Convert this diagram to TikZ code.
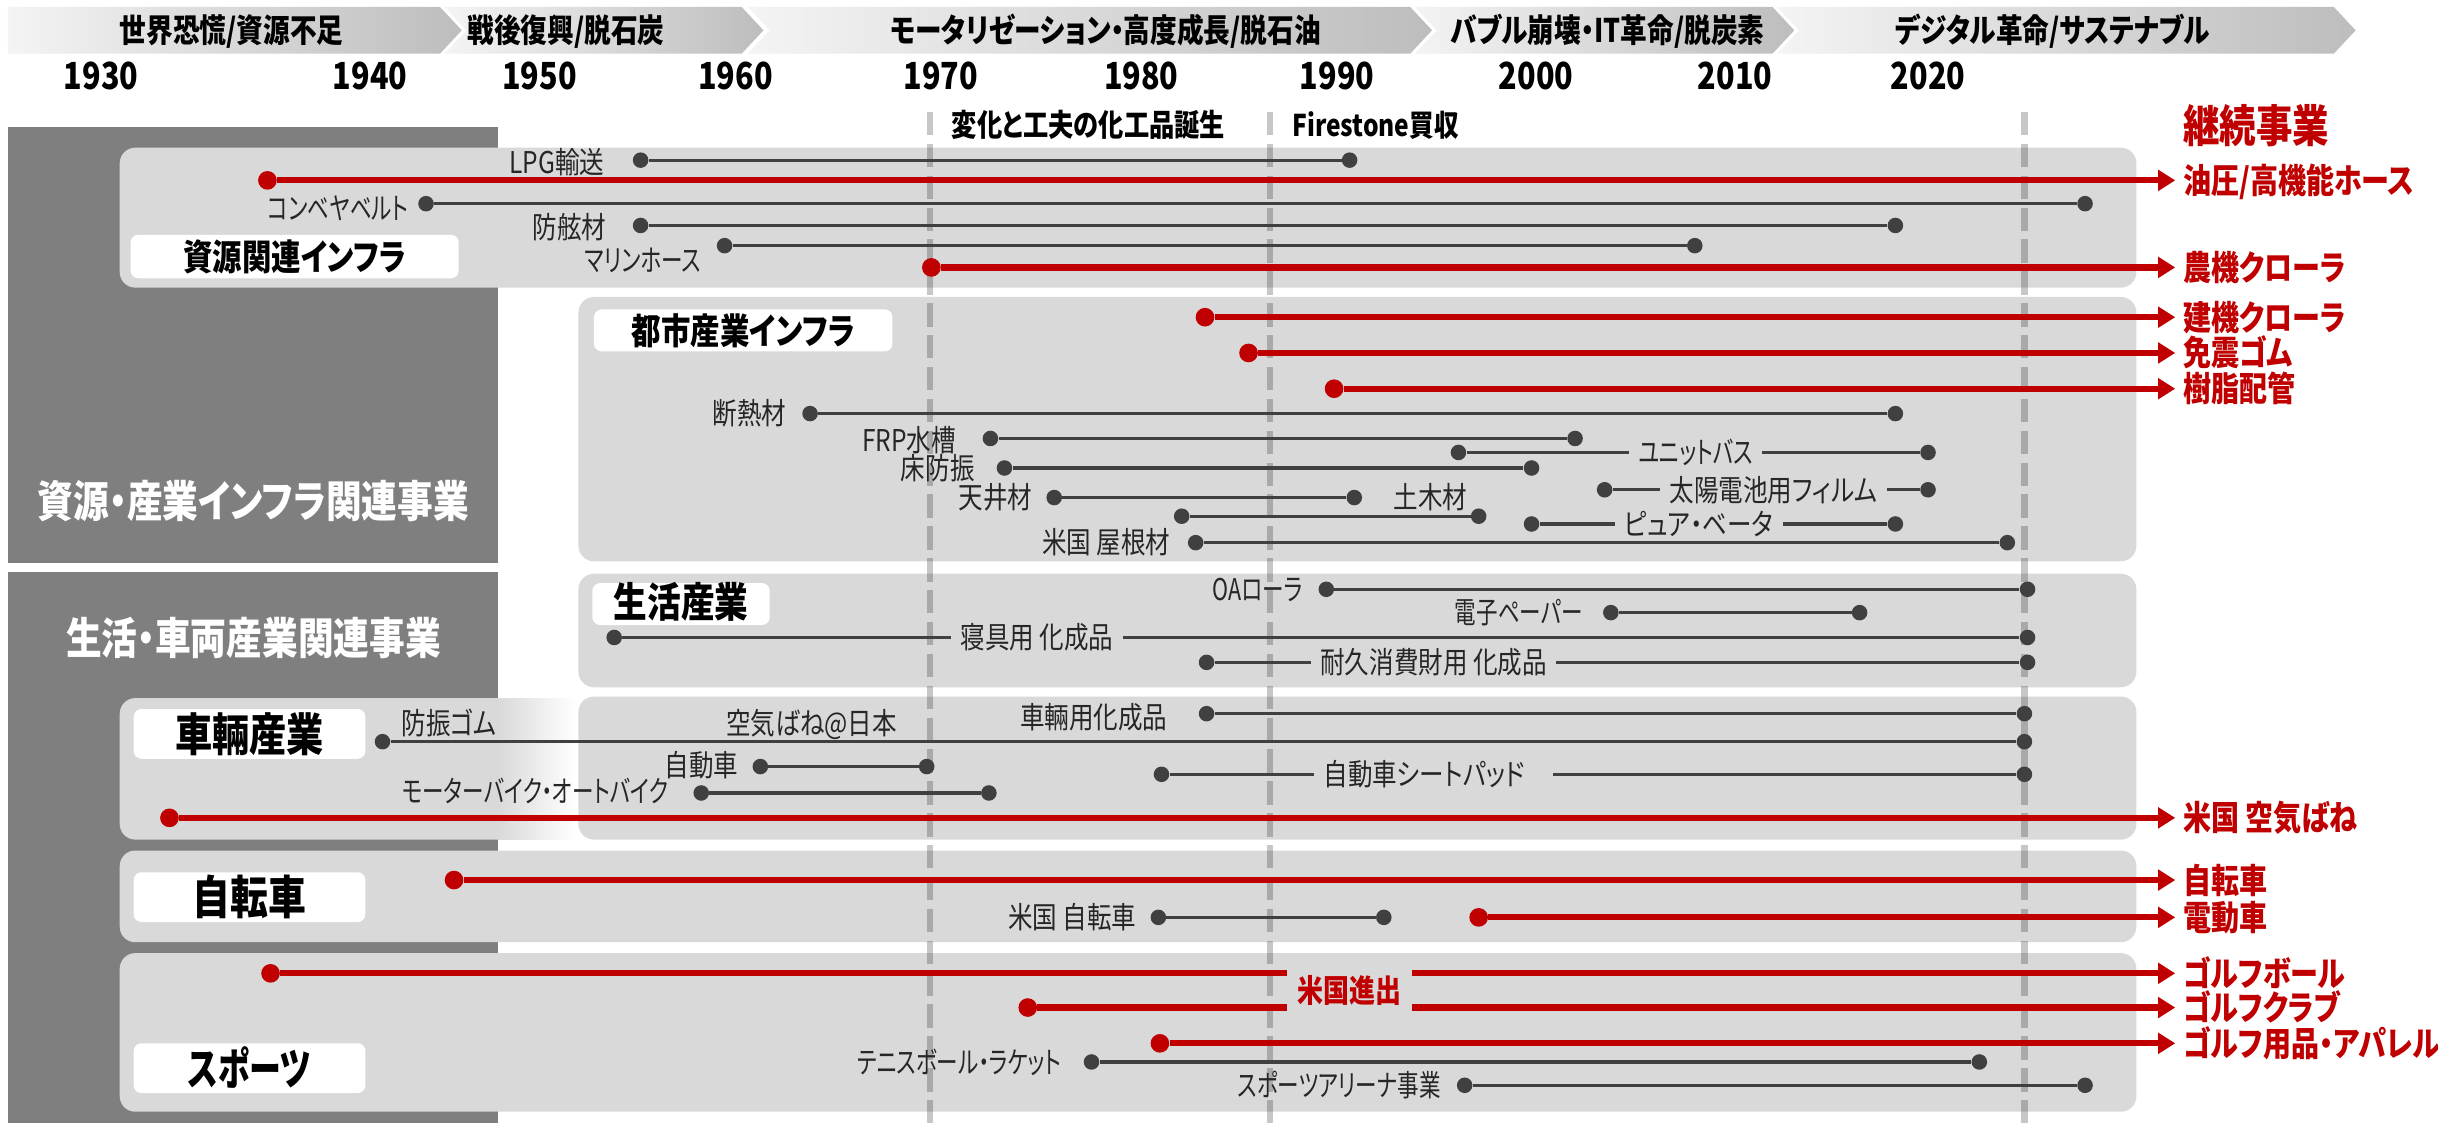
\documentclass[tikz,border=0pt]{standalone}
\usepackage{fontspec}
\newfontfamily\jp[FakeStretch=0.82,RawFeature={+palt}]{Noto Sans CJK JP}
\newfontfamily\jpk[FakeStretch=0.72,RawFeature={+palt}]{Noto Sans CJK JP}
\usetikzlibrary{arrows.meta}
\definecolor{cred}{HTML}{C00000}
\definecolor{dgray}{HTML}{404040}
\definecolor{boxgray}{HTML}{D9D9D9}
\definecolor{darkbox}{HTML}{7F7F7F}
\definecolor{labc}{HTML}{262626}
\definecolor{chevL}{HTML}{F4F4F4}
\definecolor{chevR}{HTML}{BDBDBD}
\newcommand\jfs[1]{\fontsize{#1}{#1}\selectfont}
\begin{document}
\begin{tikzpicture}[x=1pt,y=-1pt,
  lab/.style={font=\jp\jfs{19.25}, text=labc, inner sep=0pt, text height=15.4pt, text depth=0.8pt},
  klab/.style={lab, font=\jpk\jfs{19.25}},
  ilab/.style={lab, inner xsep=6pt},
  kilab/.style={klab, inner xsep=6pt},
  rlab/.style={font=\jp\bfseries\jfs{22}, text=cred, inner xsep=5pt, inner ysep=0pt, anchor=west, text height=17.6pt, text depth=0.9pt},
  htext/.style={font=\jp\bfseries\jfs{20.9}, text=black, inner sep=0pt, text height=16.7pt, text depth=0.8pt},
  year/.style={font=\jp\bfseries\jfs{24}, text=black, inner sep=0pt},
  tag/.style={fill=white, rounded corners=5pt, font=\jp\bfseries\jfs{23.1}, text=black, inner sep=0pt, text height=18.5pt, text depth=0.9pt},
  bigtag/.style={tag, font=\jp\bfseries\jfs{29.2}, text height=23.3pt, text depth=1.1pt},
  darktext/.style={font=\jp\bfseries\jfs{28}, text=white, inner sep=0pt},
  gdot/.style={circle, fill=dgray, minimum size=10pt, inner sep=0pt},
  rdot/.style={circle, fill=cred, minimum size=12pt, inner sep=0pt},
  gline/.style={draw=dgray, line width=2pt},
  rline/.style={draw=cred, line width=4pt, -{Triangle[length=11pt,width=13pt]}},
  rseg/.style={draw=cred, line width=4pt},
  vdash/.style={draw=black, opacity=0.22, line width=4pt, dash pattern=on 15pt off 5.5pt},
  secbox/.style={fill=boxgray, rounded corners=10pt}
]
\useasboundingbox (0,0) rectangle (1568,725);
\fill[white] (0,0) rectangle (1568,725);

% ---------- header chevrons ----------
\shade[left color=chevL, right color=chevR] (5,4.5) -- (283,4.5) -- (297,19.5) -- (283,34.5) -- (5,34.5) -- cycle;
\shade[left color=chevL, right color=chevR] (286,4.5) -- (477,4.5) -- (491,19.5) -- (477,34.5) -- (286,34.5) -- (300,19.5) -- cycle;
\shade[left color=chevL, right color=chevR] (481,4.5) -- (907,4.5) -- (921,19.5) -- (907,34.5) -- (481,34.5) -- (495,19.5) -- cycle;
\shade[left color=chevL, right color=chevR] (910,4.5) -- (1140,4.5) -- (1154,19.5) -- (1140,34.5) -- (910,34.5) -- (924,19.5) -- cycle;
\shade[left color=chevL, right color=chevR] (1143,4.5) -- (1501,4.5) -- (1515,19.5) -- (1501,34.5) -- (1143,34.5) -- (1157,19.5) -- cycle;

\node[htext] (h1) at (149,19.5) {世界恐慌/資源不足};
\node[htext] (h2) at (364,19.5) {戦後復興/脱石炭};
\node[htext] (h3) at (711,19.5) {モータリゼーション・高度成長/脱石油};
\node[htext] (h4) at (1034,19.5) {バブル崩壊・IT革命/脱炭素};
\node[htext] (h5) at (1320,19.5) {デジタル革命/サステナブル};

\node[year] (y1930) at (65,49) {1930};
\node[year] (y1940) at (238,49) {1940};
\node[year] (y1950) at (347,49) {1950};
\node[year] (y1960) at (473,49) {1960};
\node[year] (y1970) at (605,49) {1970};
\node[year] (y1980) at (734,49) {1980};
\node[year] (y1990) at (860,49) {1990};
\node[year] (y2000) at (988,49) {2000};
\node[year] (y2010) at (1116,49) {2010};
\node[year] (y2020) at (1240,49) {2020};

% ---------- left dark boxes ----------
\fill[darkbox] (5,82) rectangle (320,362);
\fill[darkbox] (5,368) rectangle (320,722);
\node[darktext] (dk1) at (163,322) {資源・産業インフラ関連事業};
\node[darktext] (dk2) at (163,410) {生活・車両産業関連事業};

% ---------- section boxes ----------
\fill[secbox] (77,95) rectangle (1374,185);
\fill[secbox] (372,191) rectangle (1374,361);
\fill[secbox] (372,369) rectangle (1374,442);
\fill[secbox] (77,449) rectangle (345,540);
\shade[left color=boxgray, right color=white] (320,449) rectangle (370,540);
\fill[secbox] (372,448) rectangle (1374,540);
\fill[secbox] (77,547) rectangle (1374,606);
\fill[secbox] (77,613) rectangle (1374,715);

\node[tag, minimum width=211pt, minimum height=28pt] (tA) at (189.5,165) {資源関連インフラ};
\node[tag, minimum width=192pt, minimum height=27pt] (tB) at (478,212.5) {都市産業インフラ};
\node[tag, minimum width=114pt, minimum height=27pt, font=\jp\bfseries\jfs{26.4}] (tC) at (438,388.5) {生活産業};
\node[bigtag, minimum width=149pt, minimum height=32pt] (tD) at (160.5,472) {車輛産業};
\node[bigtag, minimum width=149pt, minimum height=32pt, font=\jp\bfseries\jfs{29.7}] (tE) at (160.5,577) {自転車};
\node[bigtag, minimum width=149pt, minimum height=32pt, font=\jpk\bfseries\jfs{28.6}] (tF) at (160.5,687) {スポーツ};

% ---------- dashed guide lines ----------
\draw[vdash] (598,72) -- (598,725);
\draw[vdash] (817,72) -- (817,725);
\draw[vdash] (1302,72) -- (1302,725);

\node[htext, anchor=west, font=\jp\bfseries\jfs{19.8}] (ev1) at (612,80) {変化と工夫の化工品誕生};
\node[htext, anchor=west, font=\jp\bfseries\jfs{19.25}] (ev2) at (831,80) {Firestone買収};
\node[font=\jp\bfseries\jfs{28.6}, text=cred, inner sep=0pt, anchor=west] (cont) at (1404,81) {継続事業};

% ---------- section A ----------
\node[gdot] (lpg1) at (412,103) {}; \node[gdot] (lpg2) at (868,103) {};
\draw[gline] (lpg1) -- (lpg2);
\node[lab, anchor=east] (lpgL) at (389,104) {LPG輸送};

\node[rdot] (oil1) at (172,116) {};
\node[rlab] (oilL) at (1399,116) {油圧/高機能ホース};
\draw[rline] (oil1) -- (oilL.west);

\node[gdot] (cv1) at (274,131) {}; \node[gdot] (cv2) at (1341,131) {};
\draw[gline] (cv1) -- (cv2);
\node[klab, anchor=east] (cvL) at (263,134) {コンベヤベルト};

\node[gdot] (fg1) at (412,145) {}; \node[gdot] (fg2) at (1219,145) {};
\draw[gline] (fg1) -- (fg2);
\node[lab, anchor=east] (fgL) at (390,146) {防舷材};

\node[gdot] (mh1) at (466,158) {}; \node[gdot] (mh2) at (1090,158) {};
\draw[gline] (mh1) -- (mh2);
\node[klab, anchor=east] (mhL) at (451,167) {マリンホース};

\node[rdot] (ag1) at (599,172) {};
\node[rlab] (agL) at (1399,172) {農機クローラ};
\draw[rline] (ag1) -- (agL.west);

% ---------- section B ----------
\node[rdot] (cc1) at (775,204) {};
\node[rlab] (ccL) at (1399,204) {建機クローラ};
\draw[rline] (cc1) -- (ccL.west);

\node[rdot] (si1) at (803,227) {};
\node[rlab] (siL) at (1399,227) {免震ゴム};
\draw[rline] (si1) -- (siL.west);

\node[rdot] (rp1) at (858,250) {};
\node[rlab] (rpL) at (1399,250) {樹脂配管};
\draw[rline] (rp1) -- (rpL.west);

\node[gdot] (dn1) at (521,266) {}; \node[gdot] (dn2) at (1219,266) {};
\draw[gline] (dn1) -- (dn2);
\node[lab, anchor=east] (dnL) at (506,266) {断熱材};

\node[gdot] (frp1) at (637,282) {}; \node[gdot] (frp2) at (1013,282) {};
\draw[gline] (frp1) -- (frp2);
\node[lab, anchor=east] (frpL) at (615,283) {FRP水槽};

\node[gdot] (ub1) at (938,291) {}; \node[gdot] (ub2) at (1240,291) {};
\node[kilab] (ubL) at (1090.5,291) {ユニットバス};
\draw[gline] (ub1) -- (ubL.west);
\draw[gline] (ubL.east) -- (ub2);

\node[gdot] (fv1) at (646,301) {}; \node[gdot] (fv2) at (985,301) {};
\draw[gline] (fv1) -- (fv2);
\node[lab, anchor=east] (fvL) at (627,301) {床防振};

\node[gdot] (sf1) at (1032,315) {}; \node[gdot] (sf2) at (1240,315) {};
\node[ilab] (sfL) at (1140.5,315) {太陽電池用フィルム};
\draw[gline] (sf1) -- (sfL.west);
\draw[gline] (sfL.east) -- (sf2);

\node[gdot] (cl1) at (678,320) {}; \node[gdot] (cl2) at (871,320) {};
\draw[gline] (cl1) -- (cl2);
\node[lab, anchor=east] (clL) at (664,320) {天井材};

\node[lab] (cwL) at (920,320) {土木材};
\node[gdot] (cw1) at (760,332) {}; \node[gdot] (cw2) at (951,332) {};
\draw[gline] (cw1) -- (cw2);

\node[gdot] (pb1) at (985,337) {}; \node[gdot] (pb2) at (1219,337) {};
\node[ilab] (pbL) at (1092.5,337) {ピュア・ベータ};
\draw[gline] (pb1) -- (pbL.west);
\draw[gline] (pbL.east) -- (pb2);

\node[gdot] (rf1) at (769,349) {}; \node[gdot] (rf2) at (1291,349) {};
\draw[gline] (rf1) -- (rf2);
\node[lab, anchor=east] (rfL) at (753,349) {米国 屋根材};

% ---------- section C ----------
\node[gdot] (oa1) at (853,379) {}; \node[gdot] (oa2) at (1304,379) {};
\draw[gline] (oa1) -- (oa2);
\node[klab, anchor=east] (oaL) at (838,379) {OAローラ};

\node[gdot] (ep1) at (1036,394) {}; \node[gdot] (ep2) at (1196,394) {};
\draw[gline] (ep1) -- (ep2);
\node[klab, anchor=east] (epL) at (1018,394) {電子ペーパー};

\node[gdot] (bd1) at (395,410) {}; \node[gdot] (bd2) at (1304,410) {};
\node[ilab] (bdL) at (667,410) {寝具用 化成品};
\draw[gline] (bd1) -- (bdL.west);
\draw[gline] (bdL.east) -- (bd2);

\node[gdot] (dc1) at (776,426) {}; \node[gdot] (dc2) at (1304,426) {};
\node[ilab] (dcL) at (922,426) {耐久消費財用 化成品};
\draw[gline] (dc1) -- (dcL.west);
\draw[gline] (dcL.east) -- (dc2);

% ---------- section D ----------
\node[gdot] (vc1) at (776,459) {}; \node[gdot] (vc2) at (1302,459) {};
\draw[gline] (vc1) -- (vc2);
\node[lab, anchor=east] (vcL) at (751,461) {車輛用化成品};

\node[lab, anchor=west] (arL) at (258,465) {防振ゴム};
\node[lab] (asL) at (522,465) {空気ばね@日本};
\node[gdot] (ar1) at (246,477) {}; \node[gdot] (ar2) at (1302,477) {};
\draw[gline] (ar1) -- (ar2);

\node[gdot] (au1) at (489,493) {}; \node[gdot] (au2) at (596,493) {};
\draw[gline] (au1) -- (au2);
\node[lab, anchor=east] (auL) at (475,492) {自動車};

\node[gdot] (sp1) at (747,498) {}; \node[gdot] (sp2) at (1302,498) {};
\node[ilab, anchor=west] (spL) at (845,498) {自動車シートパッド};
\coordinate (spR) at (999,498);
\draw[gline] (sp1) -- (spL.west);
\draw[gline] (spR) -- (sp2);

\node[gdot] (mb1) at (451,510) {}; \node[gdot] (mb2) at (636,510) {};
\draw[gline] (mb1) -- (mb2);
\node[klab, anchor=east] (mbL) at (430,509) {モーターバイク・オートバイク};

\node[rdot] (usa1) at (109,526) {};
\node[rlab] (usaL) at (1399,526) {米国 空気ばね};
\draw[rline] (usa1) -- (usaL.west);

% ---------- section E ----------
\node[rdot] (bc1) at (292,566) {};
\node[rlab] (bcL) at (1399,566) {自転車};
\draw[rline] (bc1) -- (bcL.west);

\node[gdot] (ub21) at (745,590) {}; \node[gdot] (ub22) at (890,590) {};
\draw[gline] (ub21) -- (ub22);
\node[lab, anchor=east] (ubcL) at (731,590) {米国 自転車};

\node[rdot] (eb1) at (951,590) {};
\node[rlab] (ebL) at (1399,590) {電動車};
\draw[rline] (eb1) -- (ebL.west);

% ---------- section F ----------
\node[font=\jp\bfseries\jfs{20.35}, text=cred, inner sep=0pt] (usL) at (868,637) {米国進出};

\node[rdot] (gb1) at (174,626) {};
\coordinate (gbA) at (828,626); \coordinate (gbB) at (908,626);
\node[rlab] (gbL) at (1399,626) {ゴルフボール};
\draw[rseg] (gb1) -- (gbA);
\draw[rline] (gbB) -- (gbL.west);

\node[rdot] (gc1) at (661,648) {};
\coordinate (gcA) at (828,648); \coordinate (gcB) at (908,648);
\node[rlab] (gcL) at (1399,648) {ゴルフクラブ};
\draw[rseg] (gc1) -- (gcA);
\draw[rline] (gcB) -- (gcL.west);

\node[rdot] (ga1) at (746,671) {};
\node[rlab] (gaL) at (1399,671) {ゴルフ用品・アパレル};
\draw[rline] (ga1) -- (gaL.west);

\node[gdot] (tn1) at (702,683) {}; \node[gdot] (tn2) at (1273,683) {};
\draw[gline] (tn1) -- (tn2);
\node[klab, anchor=east] (tnL) at (683,683) {テニスボール・ラケット};

\node[gdot] (sa1) at (942,698) {}; \node[gdot] (sa2) at (1341,698) {};
\draw[gline] (sa1) -- (sa2);
\node[klab, anchor=east] (saL) at (927,698) {スポーツアリーナ事業};
\end{tikzpicture}
\end{document}
